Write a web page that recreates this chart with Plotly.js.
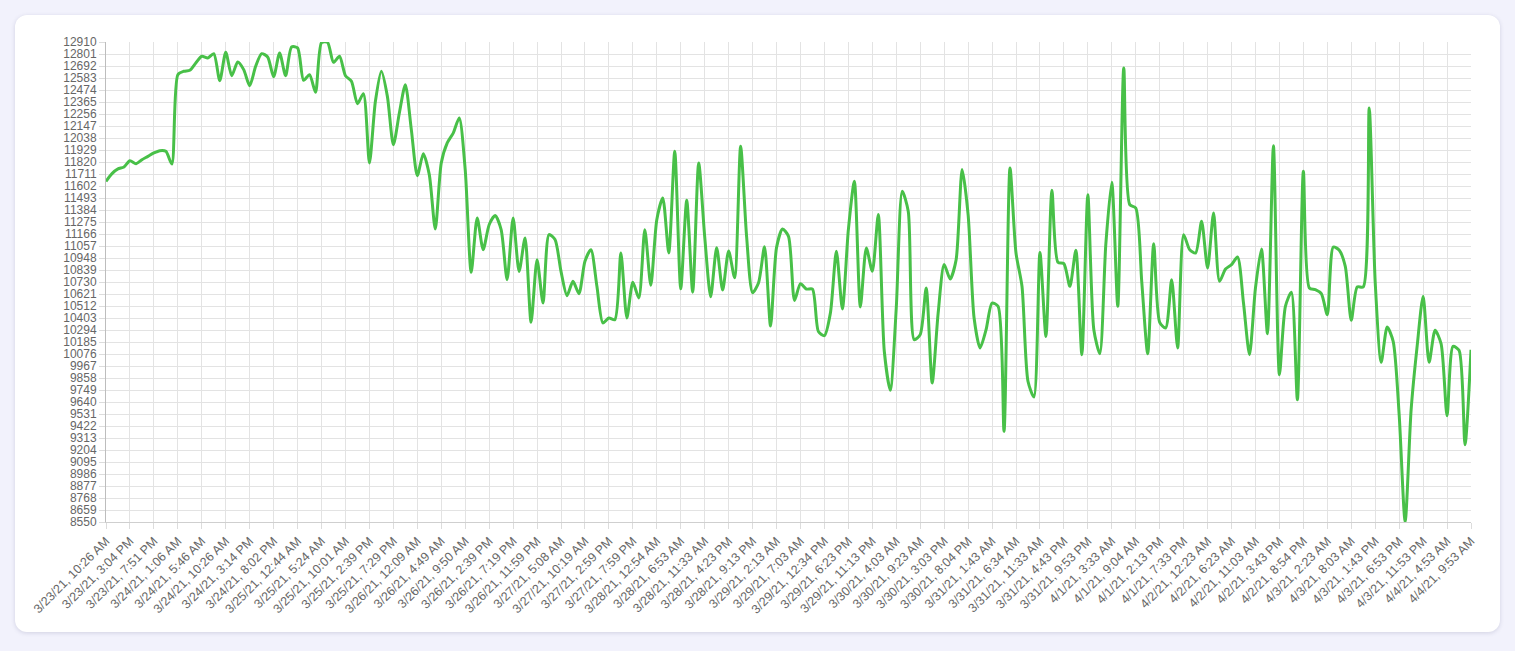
<!DOCTYPE html>
<html>
<head>
<meta charset="utf-8">
<script src="https://cdn.plot.ly/plotly-3.0.1.min.js"></script>
<style>
  html, body { margin: 0; padding: 0; background: #f2f2fc; }
  #card {
    position: absolute; left: 15px; top: 15px; width: 1485px; height: 617px;
    background: #fff; border-radius: 12px;
    box-shadow: 0 1px 4px rgba(60, 60, 110, 0.18);
  }
  #chart { position: absolute; left: 0; top: 0; width: 1515px; height: 651px; }
</style>
</head>
<body>
<div id="card"></div>
<div id="chart"></div>
<script>
// one label shown every 4 readings
var tickLabels = [
  '3/23/21, 10:26 AM', '3/23/21, 3:04 PM', '3/23/21, 7:51 PM', '3/24/21, 1:06 AM',
  '3/24/21, 5:46 AM', '3/24/21, 10:26 AM', '3/24/21, 3:14 PM', '3/24/21, 8:02 PM',
  '3/25/21, 12:44 AM', '3/25/21, 5:24 AM', '3/25/21, 10:01 AM', '3/25/21, 2:39 PM',
  '3/25/21, 7:29 PM', '3/26/21, 12:09 AM', '3/26/21, 4:49 AM', '3/26/21, 9:50 AM',
  '3/26/21, 2:39 PM', '3/26/21, 7:19 PM', '3/26/21, 11:59 PM', '3/27/21, 5:08 AM',
  '3/27/21, 10:19 AM', '3/27/21, 2:59 PM', '3/27/21, 7:59 PM', '3/28/21, 12:54 AM',
  '3/28/21, 6:53 AM', '3/28/21, 11:33 AM', '3/28/21, 4:23 PM', '3/28/21, 9:13 PM',
  '3/29/21, 2:13 AM', '3/29/21, 7:03 AM', '3/29/21, 12:34 PM', '3/29/21, 6:23 PM',
  '3/29/21, 11:13 PM', '3/30/21, 4:03 AM', '3/30/21, 9:23 AM', '3/30/21, 3:03 PM',
  '3/30/21, 8:04 PM', '3/31/21, 1:43 AM', '3/31/21, 6:34 AM', '3/31/21, 11:33 AM',
  '3/31/21, 4:43 PM', '3/31/21, 9:53 PM', '4/1/21, 3:33 AM', '4/1/21, 9:04 AM',
  '4/1/21, 2:13 PM', '4/1/21, 7:33 PM', '4/2/21, 12:23 AM', '4/2/21, 6:23 AM',
  '4/2/21, 11:03 AM', '4/2/21, 3:43 PM', '4/2/21, 8:54 PM', '4/3/21, 2:23 AM',
  '4/3/21, 8:03 AM', '4/3/21, 1:43 PM', '4/3/21, 6:53 PM', '4/3/21, 11:53 PM',
  '4/4/21, 4:53 AM', '4/4/21, 9:53 AM'
];
var perLabel = 4;

var values = [
  11644, 11714, 11757, 11775, 11832, 11805, 11841, 11871, 11902, 11923,
  11917, 11802, 12613, 12644, 12653, 12719, 12780, 12765, 12804, 12559,
  12816, 12604, 12728, 12659, 12513, 12689, 12804, 12774, 12595, 12810,
  12604, 12865, 12856, 12562, 12613, 12453, 12905, 12907, 12725, 12780,
  12604, 12553, 12350, 12441, 11811, 12371, 12644, 12416, 11977, 12265,
  12522, 12114, 11696, 11896, 11705, 11211, 11811, 11993, 12083, 12220,
  11750, 10818, 11311, 11024, 11250, 11333, 11205, 10751, 11311, 10826,
  11130, 10364, 10933, 10539, 11160, 11115, 10826, 10606, 10736, 10624,
  10918, 11024, 10691, 10358, 10403, 10388, 10994, 10403, 10727, 10585,
  11205, 10700, 11296, 11493, 10994, 11917, 10668, 11472, 10638, 11811,
  11145, 10596, 11042, 10657, 11012, 10769, 11962, 11145, 10632, 10723,
  11051, 10330, 11042, 11211, 11145, 10563, 10715, 10666, 10666, 10280,
  10243, 10449, 11009, 10485, 11205, 11645, 10503, 11039, 10827, 11342,
  10101, 9747, 10494, 11554, 11372, 10207, 10252, 10676, 9813, 10449,
  10888, 10758, 10933, 11751, 11342, 10403, 10131, 10297, 10539, 10509,
  9374, 11766, 10993, 10691, 9828, 9686, 10999, 10236, 11563, 10909,
  10897, 10691, 11018, 10070, 11523, 10297, 10079, 11069, 11635, 10509,
  12674, 11433, 11402, 10736, 10079, 11078, 10364, 10312, 10751, 10131,
  11160, 11024, 10993, 11281, 10857, 11357, 10736, 10848, 10888, 10957,
  10539, 10070, 10676, 11030, 10261, 11968, 9888, 10509, 10636, 9661,
  11736, 10676, 10661, 10624, 10433, 11048, 11018, 10872, 10382, 10685,
  10685, 12311, 10727, 10000, 10321, 10191, 9525, 8552, 9570, 10145,
  10600, 10000, 10291, 10170, 9516, 10145, 10109, 9252, 10115
];

var yTicks = [
  8550, 8659, 8768, 8877, 8986, 9095, 9204, 9313, 9422, 9531, 9640, 9749,
  9858, 9967, 10076, 10185, 10294, 10403, 10512, 10621, 10730, 10839, 10948,
  11057, 11166, 11275, 11384, 11493, 11602, 11711, 11820, 11929, 12038,
  12147, 12256, 12365, 12474, 12583, 12692, 12801, 12910
];

var xs = values.map(function (v, i) { return i; });
var xTickVals = tickLabels.map(function (t, i) { return i * perLabel; });

var trace = {
  x: xs,
  y: values,
  type: 'scatter',
  mode: 'lines',
  line: { color: 'rgb(72, 192, 72)', width: 3, shape: 'spline', smoothing: 0.7 },
  hoverinfo: 'x+y'
};

var font = { family: 'Liberation Sans, Arial, Helvetica, sans-serif', size: 12, color: '#666' };
var xFont = { family: 'Liberation Sans, Arial, Helvetica, sans-serif', size: 12.5, color: '#666' };

var layout = {
  width: 1515,
  height: 651,
  margin: { l: 106, r: 44, t: 42, b: 129 },
  paper_bgcolor: 'rgba(0,0,0,0)',
  plot_bgcolor: 'rgba(0,0,0,0)',
  showlegend: false,
  font: font,
  xaxis: {
    range: [0, values.length - 1],
    tickmode: 'array',
    tickvals: xTickVals,
    ticktext: tickLabels,
    tickangle: -45,
    ticks: 'outside',
    ticklen: 6,
    tickcolor: '#dcdcdc',
    showgrid: true,
    gridcolor: '#e3e3e3',
    gridwidth: 1,
    showline: true,
    linecolor: '#cfcfcf',
    linewidth: 1,
    zeroline: false,
    tickfont: xFont
  },
  yaxis: {
    range: [8550, 12910],
    tickmode: 'array',
    tickvals: yTicks,
    ticktext: yTicks.map(String),
    ticks: 'outside',
    ticklen: 6,
    tickcolor: '#dcdcdc',
    showgrid: true,
    gridcolor: '#e3e3e3',
    gridwidth: 1,
    showline: true,
    linecolor: '#bdbdbd',
    linewidth: 1,
    zeroline: false,
    tickfont: font
  }
};

Plotly.newPlot('chart', [trace], layout, { displayModeBar: false, staticPlot: true });
</script>
</body>
</html>
